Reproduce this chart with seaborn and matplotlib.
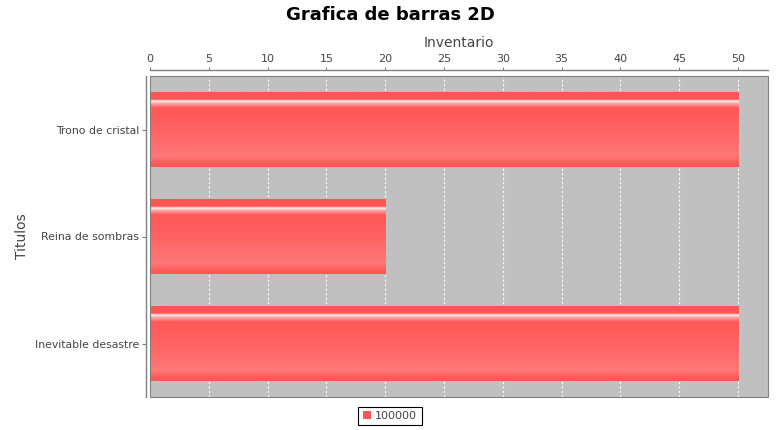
import numpy as np
import pandas as pd
import matplotlib
matplotlib.use("Agg")
import matplotlib.pyplot as plt
from matplotlib.colors import LinearSegmentedColormap
from matplotlib.patches import Rectangle, Patch
import seaborn as sns

titles = ["Trono de cristal", "Reina de sombras", "Inevitable desastre"]
values = [50, 20, 50]
series_name = "100000"
x_ticks = [0, 5, 10, 15, 20, 25, 30, 35, 40, 45, 50]

sns.set_theme(style="white")
plt.rcParams['font.family'] = ['DejaVu Sans']

df = pd.DataFrame({"Titulos": titles, "Inventario": values})

fig = plt.figure(figsize=(7.8, 4.3), dpi=100)
ax = fig.add_axes([150/780, 1-397/430, 618/780, 321/430])
ax.set_facecolor("#C0C0C0")

sns.barplot(data=df, x="Inventario", y="Titulos", orient="h", width=0.7,
            color="#FF5555", saturation=1, ax=ax, zorder=2,
            linewidth=0, edgecolor="none")

# gradient overlay
cmap = LinearSegmentedColormap.from_list("bar", [
    (0.00, "#FF5555"), (0.095, "#FF5555"), (0.12, "#FFFFFF"), (0.14, "#FFB5B5"),
    (0.21, "#FF5858"), (0.50, "#FF6262"), (0.86, "#FF7878"),
    (0.94, "#FF5C5C"), (1.00, "#FF5555")])
grad = np.linspace(0, 1, 256).reshape(-1, 1)
for p in ax.patches:
    x0, y0 = p.get_x(), p.get_y()
    w, h = p.get_width(), p.get_height()
    im = ax.imshow(grad, cmap=cmap, aspect="auto",
                   extent=(x0, x0 + w, y0 + h, y0), origin="upper",
                   zorder=3, interpolation="bilinear")
    im.set_clip_path(p)
ax.set_xlim(0, 52.55)
ax.set_ylim(2.5, -0.5)

# grid
ax.set_xticks(x_ticks)
ax.xaxis.grid(True, color="white", linestyle=(0, (2, 2)), linewidth=0.8)
ax.yaxis.grid(False)
ax.set_axisbelow(True)

ax.xaxis.tick_top()
ax.xaxis.set_label_position("top")
ax.set_xlabel("Inventario", fontsize=10, color="#444444", labelpad=5)
ax.set_ylabel("Titulos", fontsize=10, color="#444444", labelpad=4)

ax.tick_params(axis="x", top=True, bottom=False, length=2.5, width=0.8,
               color="#808080", labelsize=8, labelcolor="#444444", pad=2)
ax.tick_params(axis="y", left=True, length=3, width=0.8,
               color="#808080", labelsize=7.8, labelcolor="#444444", pad=2)

for s in ["right", "bottom"]:
    ax.spines[s].set_visible(False)
for s in ["top", "left"]:
    ax.spines[s].set_visible(True)
    ax.spines[s].set_color("#808080")
    ax.spines[s].set_linewidth(1)
ax.spines["top"].set_position(("outward", 4))
ax.spines["left"].set_position(("outward", 3))

ax.add_patch(Rectangle((0, 0), 1, 1, transform=ax.transAxes, fill=False,
                       edgecolor="#808080", linewidth=0.8, zorder=5, clip_on=False))

fig.suptitle("Grafica de barras 2D", fontsize=13, fontweight="heavy",
             x=0.5, y=0.985, color="black")

fig.legend(handles=[Patch(facecolor="#FF5555", edgecolor="none", label=series_name)],
           loc="center", bbox_to_anchor=(390/780, 1-416/430), frameon=True,
           fontsize=8, handlelength=0.7, handleheight=0.7, handletextpad=0.4,
           borderpad=0.4, fancybox=False, edgecolor="black", framealpha=1)
leg = fig.legends[0]
leg.get_frame().set_linewidth(0.8)
for t in leg.get_texts():
    t.set_color("#444444")

fig.savefig("out.png", dpi=100)
